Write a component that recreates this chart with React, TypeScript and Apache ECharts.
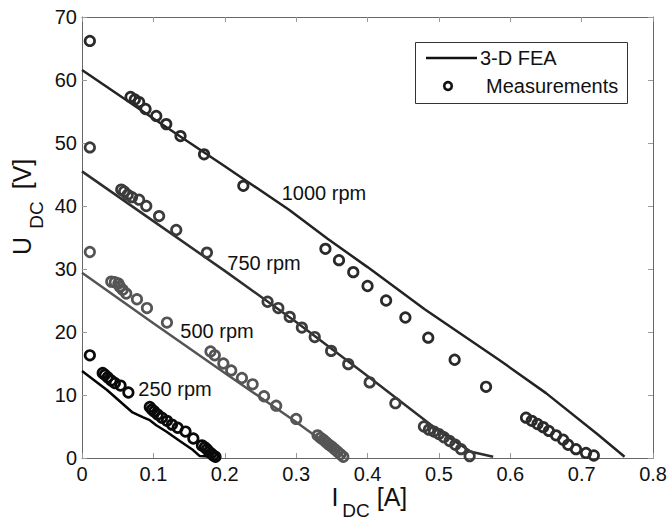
import React, { useEffect, useRef } from "react";
import * as echarts from "echarts";

// ---- Data (I_DC [A], U_DC [V]) ----
const I_1000_meas = [0.011, 0.068, 0.074, 0.080, 0.089, 0.104, 0.118, 0.138, 0.171, 0.226, 0.341, 0.360, 0.380, 0.400, 0.426, 0.453, 0.485, 0.522, 0.566, 0.622, 0.630, 0.638, 0.646, 0.654, 0.664, 0.674, 0.681, 0.692, 0.706, 0.717];
const U_1000_meas = [66.2, 57.3, 56.9, 56.5, 55.4, 54.3, 53.0, 51.1, 48.2, 43.2, 33.2, 31.4, 29.5, 27.3, 25.0, 22.3, 19.1, 15.6, 11.3, 6.4, 5.9, 5.4, 4.9, 4.3, 3.6, 2.9, 2.1, 1.4, 0.8, 0.4];
const I_1000_fea = [0, 0.1, 0.2, 0.29, 0.344, 0.4, 0.48, 0.584, 0.65, 0.723, 0.76];
const U_1000_fea = [61.6, 53.9, 46.3, 39.4, 34.8, 30.3, 23.6, 15.6, 10.3, 3.7, 0.2];

const I_750_meas = [0.011, 0.055, 0.059, 0.064, 0.070, 0.080, 0.090, 0.108, 0.132, 0.175, 0.260, 0.275, 0.291, 0.308, 0.326, 0.349, 0.373, 0.403, 0.439, 0.479, 0.486, 0.493, 0.500, 0.507, 0.515, 0.523, 0.531, 0.543];
const U_750_meas = [49.3, 42.6, 42.3, 41.8, 41.4, 41.0, 40.0, 38.4, 36.2, 32.6, 24.8, 23.8, 22.4, 20.7, 19.2, 17.0, 14.9, 12.0, 8.7, 5.0, 4.5, 4.2, 3.8, 3.3, 2.7, 2.1, 1.4, 0.3];
const I_750_fea = [0, 0.1, 0.2, 0.3, 0.4, 0.5, 0.545, 0.576];
const U_750_fea = [45.5, 37.6, 29.7, 21.6, 13.0, 4.3, 1.0, 0.2];

const I_500_meas = [0.011, 0.041, 0.046, 0.051, 0.053, 0.057, 0.062, 0.077, 0.091, 0.119, 0.180, 0.186, 0.198, 0.209, 0.224, 0.239, 0.255, 0.272, 0.300, 0.330, 0.334, 0.338, 0.342, 0.346, 0.350, 0.354, 0.358, 0.362, 0.366];
const U_500_meas = [32.7, 28.0, 27.9, 27.7, 27.2, 26.7, 26.1, 25.2, 23.8, 21.5, 16.9, 16.3, 15.0, 13.9, 12.7, 11.7, 9.8, 8.3, 6.2, 3.6, 3.2, 2.9, 2.5, 2.1, 1.8, 1.4, 1.0, 0.6, 0.2];
const I_500_fea = [0, 0.1, 0.2, 0.3, 0.367];
const U_500_fea = [29.4, 21.4, 13.5, 5.7, 0.2];

const I_250_meas = [0.011, 0.029, 0.032, 0.036, 0.041, 0.046, 0.054, 0.065, 0.095, 0.098, 0.101, 0.106, 0.112, 0.119, 0.126, 0.134, 0.145, 0.156, 0.168, 0.172, 0.175, 0.178, 0.181, 0.184, 0.187];
const U_250_meas = [16.3, 13.5, 13.2, 12.8, 12.3, 11.9, 11.5, 10.4, 8.1, 7.7, 7.4, 6.9, 6.4, 5.9, 5.3, 4.8, 4.2, 3.1, 2.0, 1.7, 1.4, 1.0, 0.7, 0.4, 0.2];
const I_250_fea = [0, 0.035, 0.07, 0.085, 0.095, 0.104, 0.118, 0.137, 0.155, 0.165, 0.185];
const U_250_fea = [13.8, 10.8, 7.3, 6.5, 6.0, 5.2, 4.2, 2.7, 1.3, 0.3, 0.2];

const speedLabels = ["1000 rpm", "750 rpm", "500 rpm", "250 rpm"];
const legendNames = ["3-D FEA", "Measurements"];

const FONT = "'Liberation Sans', Arial, sans-serif";

const zip = (xs: number[], ys: number[]) => xs.map((x, i) => [x, ys[i]]);

export default function App() {
  const ref = useRef<HTMLDivElement>(null);
  useEffect(() => {
    if (!ref.current) return;
    const chart = echarts.init(ref.current, undefined, { renderer: "svg" });

    const sets = [
      { fi: I_1000_fea, fu: U_1000_fea, mi: I_1000_meas, mu: U_1000_meas, line: "#232323", mark: "#2a2a2a" },
      { fi: I_750_fea, fu: U_750_fea, mi: I_750_meas, mu: U_750_meas, line: "#2e2e2e", mark: "#3c3c3c" },
      { fi: I_500_fea, fu: U_500_fea, mi: I_500_meas, mu: U_500_meas, line: "#555555", mark: "#555555" },
      { fi: I_250_fea, fu: U_250_fea, mi: I_250_meas, mu: U_250_meas, line: "#050505", mark: "#0a0a0a" },
    ];

    const series: any[] = [];
    sets.forEach((s) => {
      series.push({
        name: legendNames[0],
        type: "line",
        data: zip(s.fi, s.fu),
        showSymbol: false,
        lineStyle: { color: s.line, width: 2.5 },
        z: 2,
      });
      series.push({
        name: legendNames[1],
        type: "scatter",
        data: zip(s.mi, s.mu),
        symbol: "circle",
        symbolSize: 9.5,
        itemStyle: { color: "rgba(0,0,0,0)", borderColor: s.mark, borderWidth: 2.7, opacity: 1 },
        z: 3,
      });
    });

    const txt = (text: string, x: number, y: number, size: number, extra: any = {}) => ({
      type: "text",
      x,
      y,
      ...extra,
      style: { text, fontSize: size, fontFamily: FONT, fill: "#111", align: "center", verticalAlign: "middle" },
    });

    chart.setOption({
      animation: false,
      backgroundColor: "#fff",
      grid: { left: 82, top: 17, right: 15, bottom: 62, containLabel: false },
      xAxis: [
        {
          type: "value",
          min: 0,
          max: 0.8,
          interval: 0.1,
          axisLine: { show: true, lineStyle: { color: "#666", width: 1 } },
          axisTick: { show: true, inside: true, length: 5, lineStyle: { color: "#999" } },
          axisLabel: { fontSize: 20, fontFamily: FONT, color: "#111", margin: 6 },
          splitLine: { show: false },
        },
        {
          type: "value",
          position: "top",
          min: 0,
          max: 0.8,
          interval: 0.1,
          axisLine: { show: true, onZero: false, lineStyle: { color: "#666", width: 1 } },
          axisTick: { show: true, inside: true, length: 5, lineStyle: { color: "#999" } },
          axisLabel: { show: false },
          splitLine: { show: false },
        },
      ],
      yAxis: [
        {
          type: "value",
          min: 0,
          max: 70,
          interval: 10,
          axisLine: { show: true, lineStyle: { color: "#666", width: 1 } },
          axisTick: { show: true, inside: true, length: 5, lineStyle: { color: "#999" } },
          axisLabel: { fontSize: 20, fontFamily: FONT, color: "#111", margin: 5 },
          splitLine: { show: false },
        },
        {
          type: "value",
          position: "right",
          min: 0,
          max: 70,
          interval: 10,
          axisLine: { show: true, onZero: false, lineStyle: { color: "#666", width: 1 } },
          axisTick: { show: true, inside: true, length: 5, lineStyle: { color: "#999" } },
          axisLabel: { show: false },
          splitLine: { show: false },
        },
      ],
      series,
      graphic: [
        txt(speedLabels[0], 324, 193, 20),
        txt(speedLabels[1], 264, 263, 20),
        txt(speedLabels[2], 217, 331, 20),
        txt(speedLabels[3], 175, 389, 20),
        // x-axis title
        txt("I", 335, 497, 25),
        txt("DC", 356, 510, 19),
        txt("[A]", 392, 497, 25),
        // y-axis title
        txt("U", 22, 246, 25, { rotation: Math.PI / 2 }),
        txt("DC", 36, 215, 19, { rotation: Math.PI / 2 }),
        txt("[V]", 22, 174, 25, { rotation: Math.PI / 2 }),
        // legend
        {
          type: "rect",
          shape: { x: 415.5, y: 42.5, width: 212, height: 61 },
          style: { fill: "#fff", stroke: "#333", lineWidth: 1 },
          z: 10,
        },
        {
          type: "line",
          shape: { x1: 426, y1: 58, x2: 477, y2: 58 },
          style: { stroke: "#111", lineWidth: 2.5 },
          z: 11,
        },
        {
          type: "circle",
          shape: { cx: 448, cy: 86, r: 3.8 },
          style: { fill: "none", stroke: "#111", lineWidth: 2.6 },
          z: 11,
        },
        {
          type: "text",
          x: 480,
          y: 58,
          z: 11,
          style: { text: legendNames[0], fontSize: 20, fontFamily: FONT, fill: "#111", align: "left", verticalAlign: "middle" },
        },
        {
          type: "text",
          x: 486,
          y: 86,
          z: 11,
          style: { text: legendNames[1], fontSize: 20, fontFamily: FONT, fill: "#111", align: "left", verticalAlign: "middle" },
        },
      ],
    });

    return () => chart.dispose();
  }, []);

  return (
    <div
      ref={ref}
      style={{ position: "fixed", left: 0, top: 0, width: 670, height: 520, background: "#fff" }}
    />
  );
}
